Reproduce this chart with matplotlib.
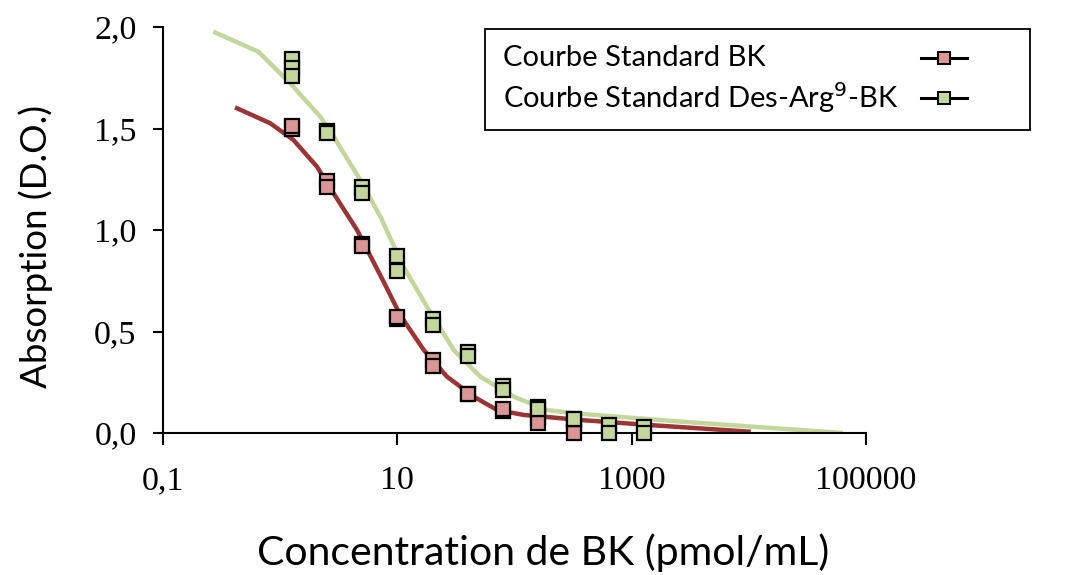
import numpy as np
import matplotlib
matplotlib.use("Agg")
from matplotlib import pyplot as plt
from matplotlib.ticker import FixedLocator, FuncFormatter, NullLocator
from matplotlib.patches import Rectangle
from matplotlib.lines import Line2D

# %% data
# duplicate wells, Standard BK
bk_x = [1.25, 1.25, 2.5, 2.5, 5, 5, 10, 10, 20, 20, 40, 40, 80, 80, 160, 160, 320, 320]
bk_y = [1.50, 1.51, 1.24, 1.21, 0.93, 0.92, 0.56, 0.57, 0.36, 0.33, 0.19, 0.19,
        0.11, 0.12, 0.08, 0.05, 0.03, 0.00]

# Standard Des-Arg9-BK
da_x = [1.25, 1.25, 1.25, 2.5, 2.5, 5, 5, 10, 10, 20, 20, 40, 40, 80, 80,
        160, 160, 320, 320, 640, 640, 1280, 1280]
da_y = [1.84, 1.80, 1.76, 1.49, 1.48, 1.21, 1.18, 0.87, 0.80, 0.56, 0.53, 0.40, 0.38,
        0.23, 0.21, 0.13, 0.12, 0.07, 0.07, 0.04, 0.00, 0.03, 0.00]

# fitted curves (traced)
bk_fit_x = [0.412, 0.822, 1.30, 2.06, 2.86, 4.53, 7.64, 10.6, 16.8, 26.6, 44.9,
            71.1, 120, 366, 1361, 10400]
bk_fit_y = [1.604, 1.526, 1.443, 1.312, 1.18, 1.0, 0.745, 0.58, 0.409, 0.277, 0.179,
            0.113, 0.089, 0.064, 0.04, 0.006]

da_fit_x = [0.269, 0.653, 1.218, 2.20, 2.86, 4.83, 7.16, 11.3, 17.9, 30.3, 51.2,
            98.6, 190, 321, 2625, 63500]
da_fit_y = [1.977, 1.878, 1.723, 1.558, 1.46, 1.246, 1.066, 0.819, 0.622, 0.409,
            0.277, 0.179, 0.113, 0.097, 0.056, 0.0]

x_ticks = [0.1, 10, 1000, 100000]
x_ticklabels = ["0,1", "10", "1000", "100000"]
y_ticks = [0.0, 0.5, 1.0, 1.5, 2.0]

legend_labels = ["Courbe Standard BK", "Courbe Standard Des-Arg$^9$-BK"]

RED_LINE = "#9b3434"
GREEN_LINE = "#c3d69b"
RED_FILL = "#d99694"
GREEN_FILL = "#c3d69b"

SANS = "Lato"
SERIF = "Liberation Serif"

W, H = 1068, 575

# %% figure
fig = plt.figure(figsize=(W / 100, H / 100), dpi=100)
ax = fig.add_axes([163 / W, 1 - 433 / H, (866 - 163) / W, (433 - 27) / H])

ax.plot(bk_fit_x, bk_fit_y, color=RED_LINE, lw=3.2, solid_capstyle="butt", zorder=2)
ax.plot(da_fit_x, da_fit_y, color=GREEN_LINE, lw=3.2, solid_capstyle="butt", zorder=2)

ax.plot(bk_x, bk_y, ls="none", marker="s", ms=9.5, mfc=RED_FILL, mec="black",
        mew=1.6, zorder=3, clip_on=False)
ax.plot(da_x, da_y, ls="none", marker="s", ms=9.5, mfc=GREEN_FILL, mec="black",
        mew=1.6, zorder=4, clip_on=False)

ax.set_xscale("log")
ax.set_xlim(0.1, 100000)
ax.set_ylim(0, 2.0)

ax.xaxis.set_major_locator(FixedLocator(x_ticks))
ax.xaxis.set_minor_locator(NullLocator())
ax.set_xticklabels(x_ticklabels)
ax.yaxis.set_major_locator(FixedLocator(y_ticks))
ax.yaxis.set_major_formatter(FuncFormatter(lambda v, p: f"{v:.1f}".replace(".", ",")))

for sp in ("top", "right"):
    ax.spines[sp].set_visible(False)
for sp in ("left", "bottom"):
    ax.spines[sp].set_linewidth(1.5)

ax.tick_params(axis="x", direction="out", length=8.5, width=1.5, pad=15,
               labelsize=24.5)
ax.tick_params(axis="y", direction="out", length=7, width=1.5, pad=12,
               labelsize=24.5)
for lab in ax.get_xticklabels() + ax.get_yticklabels():
    lab.set_fontfamily(SERIF)

fig.text(543 / W, 1 - 553 / H, "Concentration de BK (pmol/mL)", family=SANS,
         fontsize=29.5, ha="center", va="center")
fig.text(36 / W, 1 - 246 / H, "Absorption (D.O.)", family=SANS,
         fontsize=26.5, ha="center", va="center", rotation=90)

# legend drawn by hand: text left, handle (black line + square) on the right
fig.add_artist(Rectangle((485 / W, 1 - 130 / H), (1030 - 485) / W, 101 / H,
                         transform=fig.transFigure, fill=False, ec="black", lw=1.3))
for label, fill, yc in zip(legend_labels, [RED_FILL, GREEN_FILL], [58, 98]):
    fig.text(503 / W, 1 - yc / H, label, family=SANS, fontsize=21,
             ha="left", va="center")
    fig.add_artist(Line2D([921 / W, 967 / W], [1 - yc / H, 1 - yc / H],
                          transform=fig.transFigure, color="black", lw=2.2))
    fig.add_artist(Line2D([944 / W], [1 - yc / H], transform=fig.transFigure,
                          marker="s", ms=9, mfc=fill, mec="black", mew=1.4))

fig.savefig("out.png", dpi=100)
